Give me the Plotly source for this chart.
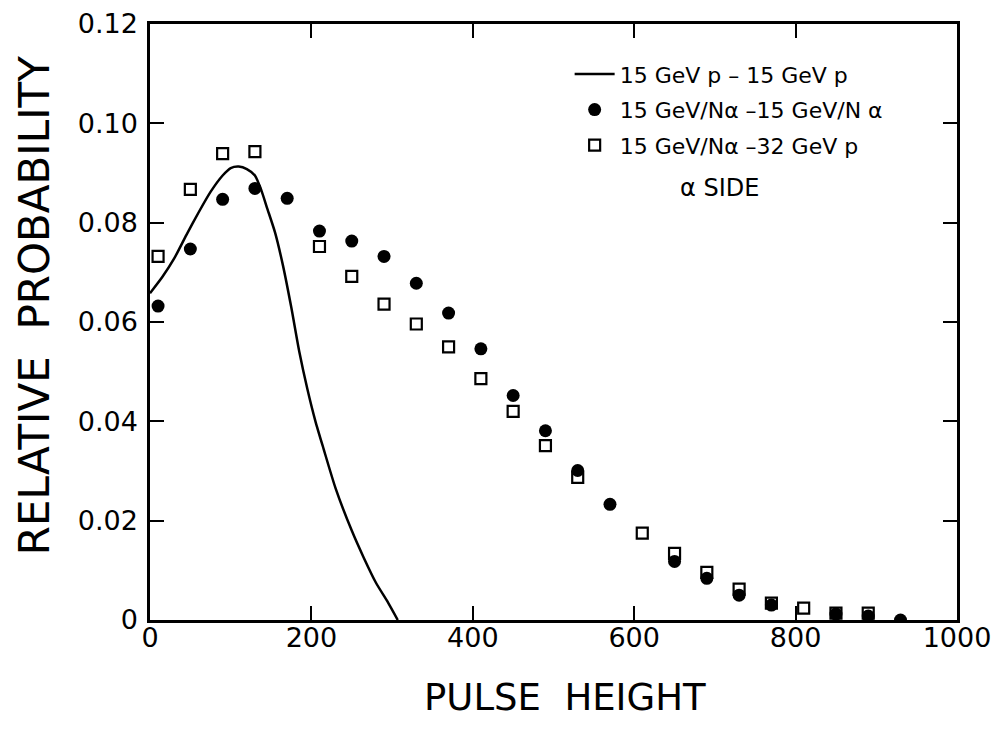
import plotly.graph_objects as go

# Solid line: 15 GeV p - 15 GeV p
line_x = [0, 15, 30, 45, 60, 75, 90, 100, 110, 120, 130, 138, 145, 155, 165, 175,
          185, 195, 205, 215, 230, 250, 265, 280, 295, 307]
line_y = [0.0658, 0.0690, 0.0728, 0.0775, 0.0820, 0.0862, 0.0895, 0.0910, 0.0913,
          0.0908, 0.0895, 0.0865, 0.0830, 0.0780, 0.0712, 0.0630, 0.0540, 0.0465,
          0.0400, 0.0345, 0.0265, 0.0180, 0.0125, 0.0075, 0.0035, 0.0]

# Filled circles: 15 GeV/N alpha - 15 GeV/N alpha
circ_x = [10, 50, 90, 130, 170, 210, 250, 290, 330, 370, 410, 450, 490, 530, 570,
          650, 690, 730, 770, 850, 890, 930]
circ_y = [0.0632, 0.0747, 0.0847, 0.0869, 0.0849, 0.0783, 0.0763, 0.0732, 0.0678,
          0.0618, 0.0546, 0.0452, 0.0381, 0.0301, 0.0233, 0.0118, 0.0084, 0.0050,
          0.0030, 0.0012, 0.0008, 0.0]

# Open squares: 15 GeV/N alpha - 32 GeV p
sq_x = [10, 50, 90, 130, 210, 250, 290, 330, 370, 410, 450, 490, 530, 610, 650,
        690, 730, 770, 810, 850, 890]
sq_y = [0.0732, 0.0867, 0.0939, 0.0943, 0.0752, 0.0692, 0.0636, 0.0596, 0.0550,
        0.0486, 0.0420, 0.0351, 0.0287, 0.0175, 0.0134, 0.0096, 0.0062, 0.0034,
        0.0024, 0.0014, 0.0014]

x_ticks = [0, 200, 400, 600, 800, 1000]
x_ticktext = ["0", "200", "400", "600", "800", "1000"]
y_ticks = [0, 0.02, 0.04, 0.06, 0.08, 0.10, 0.12]
y_ticktext = ["0", "0.02", "0.04", "0.06", "0.08", "0.10", "0.12"]

FONT = "DejaVu Sans"

fig = go.Figure()
fig.add_trace(go.Scatter(
    x=line_x, y=line_y, mode="lines", legendgroup="a",
    line=dict(color="black", width=2.5, shape="spline", smoothing=0.6),
    name="15 GeV p \u2013 15 GeV p"))
fig.add_trace(go.Scatter(
    x=circ_x, y=circ_y, mode="markers", legendgroup="b",
    marker=dict(symbol="circle", size=13, color="black"),
    name="15 GeV/N\u03b1 \u201315 GeV/N \u03b1"))
fig.add_trace(go.Scatter(
    x=sq_x, y=sq_y, mode="markers", legendgroup="c",
    marker=dict(symbol="square-open", size=11, color="black", line=dict(width=2.2, color="black")),
    name="15 GeV/N\u03b1 \u201332 GeV p"))

fig.update_layout(
    width=991, height=716,
    margin=dict(l=142, r=42, t=16, b=104),
    paper_bgcolor="white", plot_bgcolor="white",
    font=dict(family=FONT, color="black"),
    showlegend=True,
    legend=dict(x=0.52, y=0.951, xanchor="left", yanchor="top",
                font=dict(size=22, family=FONT, color="black"),
                bgcolor="rgba(0,0,0,0)", tracegroupgap=4, itemwidth=40),
    annotations=[
        dict(text="\u03b1 SIDE", x=0.706, y=0.724, xref="paper", yref="paper",
             xanchor="center", yanchor="middle",
             showarrow=False, font=dict(size=24, family=FONT, color="black")),
        dict(text="PULSE  HEIGHT", x=0.514, y=-0.1304, xref="paper", yref="paper",
             xanchor="center", yanchor="middle",
             showarrow=False, font=dict(size=37, family=FONT, color="black")),
        dict(text="RELATIVE  PROBABILITY", x=-0.1422, y=0.527, xref="paper", yref="paper",
             xanchor="center", yanchor="middle", textangle=-90,
             showarrow=False, font=dict(size=42, family=FONT, color="black")),
    ],
)
fig.update_xaxes(
    range=[0, 1000], tickvals=x_ticks, ticktext=x_ticktext,
    ticks="inside", ticklen=14, tickwidth=2, tickcolor="black",
    showline=True, linecolor="black", linewidth=2.5, mirror="ticks",
    showgrid=False, zeroline=False, ticklabelstandoff=-8,
    ticklabeloverflow="allow", automargin=False,
    tickfont=dict(size=27, family=FONT, color="black"),
)
fig.update_yaxes(
    range=[0, 0.12], tickvals=y_ticks, ticktext=y_ticktext,
    ticks="inside", ticklen=14, tickwidth=2, tickcolor="black",
    showline=True, linecolor="black", linewidth=2.5, mirror="ticks",
    showgrid=False, zeroline=False, ticklabelstandoff=4,
    ticklabeloverflow="allow", automargin=False,
    tickfont=dict(size=27, family=FONT, color="black"),
)

fig.write_html("out.html")
